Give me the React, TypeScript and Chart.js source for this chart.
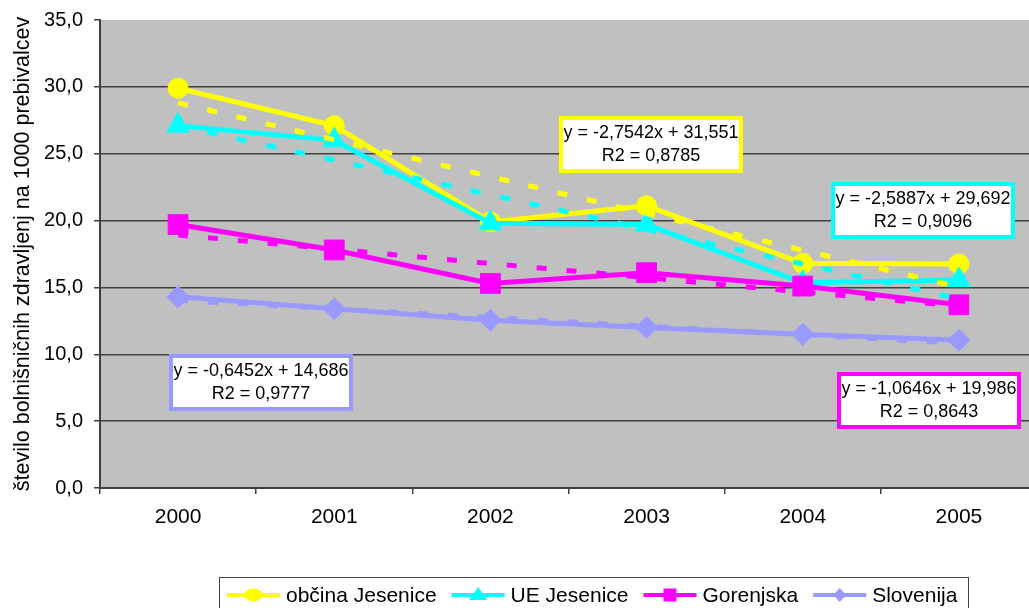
import React, { useEffect, useRef } from 'react';
import { Chart, registerables } from 'chart.js';

Chart.register(...registerables);

// ---------- DATA ----------
const years = ['2000', '2001', '2002', '2003', '2004', '2005'];
const seriesLabels = ['občina Jesenice', 'UE Jesenice', 'Gorenjska', 'Slovenija'];
const obcinaJesenice = [29.9, 27.1, 19.9, 21.1, 16.8, 16.75];
const ueJesenice = [27.1, 26.0, 19.8, 19.7, 15.35, 15.55];
const gorenjska = [19.7, 17.8, 15.3, 16.1, 15.1, 13.7];
const slovenija = [14.3, 13.4, 12.55, 12.0, 11.5, 11.05];

// linear trendlines (values of the displayed equations at x = 1..6)
const trendObcina = [28.8, 26.04, 23.29, 20.53, 17.78, 15.03];
const trendUE = [27.1, 24.52, 21.93, 19.34, 16.75, 14.16];
const trendGorenjska = [18.92, 17.86, 16.79, 15.73, 14.66, 13.6];
const trendSlovenija = [14.04, 13.4, 12.75, 12.11, 11.46, 10.82];

const trendEquations = [
  'y = -2,7542x + 31,551',
  'y = -2,5887x + 29,692',
  'y = -1,0646x + 19,986',
  'y = -0,6452x + 14,686',
];
const trendR2 = ['R2 = 0,8785', 'R2 = 0,9096', 'R2 = 0,8643', 'R2 = 0,9777'];

const yTitle = 'število bolnišničnih zdravljenj na 1000 prebivalcev';

// ---------- STYLE / LAYOUT ----------
const FONT = '"Liberation Sans", Arial, sans-serif';
const colors = ['#FFFF00', '#00FFFF', '#FF00FF', '#9999FF'];
const shapes = ['circle', 'triangle', 'rect', 'rectRot'];
const radii = [10, 13, 14, 11];
// annotation box anchors (category index, value) for each trendline label
const annAnchors = [
  { x: 3.03, y: 25.69 },
  { x: 4.77, y: 20.75 },
  { x: 4.81, y: 6.54 },
  { x: 0.53, y: 7.89 },
];

const CANVAS_W = 1052;
const CANVAS_H = 608;

const bgPlugin = {
  id: 'plotBg',
  beforeDraw(chart: any) {
    const { ctx, chartArea } = chart;
    ctx.save();
    ctx.fillStyle = '#C0C0C0';
    ctx.fillRect(chartArea.left, chartArea.top, chartArea.right - chartArea.left, chartArea.bottom - chartArea.top);
    ctx.restore();
  },
};

function drawLegendMarker(ctx: CanvasRenderingContext2D, shape: string, x: number, y: number, color: string) {
  ctx.fillStyle = color;
  ctx.beginPath();
  if (shape === 'circle') {
    ctx.ellipse(x, y, 9.5, 6.5, 0, 0, Math.PI * 2);
  } else if (shape === 'triangle') {
    ctx.moveTo(x, y - 8);
    ctx.lineTo(x + 9, y + 5);
    ctx.lineTo(x - 9, y + 5);
    ctx.closePath();
  } else if (shape === 'rect') {
    ctx.rect(x - 6.5, y - 6.5, 13, 13);
  } else {
    ctx.moveTo(x, y - 7);
    ctx.lineTo(x + 6.5, y);
    ctx.lineTo(x, y + 7);
    ctx.lineTo(x - 6.5, y);
    ctx.closePath();
  }
  ctx.fill();
}

const overlayPlugin = {
  id: 'overlay',
  afterDraw(chart: any) {
    const { ctx } = chart;
    const xs = chart.scales.x;
    const ys = chart.scales.y;
    ctx.save();
    // trendline equation boxes
    const bw = 184;
    const bh = 57;
    for (let i = 0; i < trendEquations.length; i++) {
      const cx = xs.getPixelForValue(annAnchors[i].x);
      const cy = ys.getPixelForValue(annAnchors[i].y);
      const left = Math.round(cx - bw / 2);
      const top = Math.round(cy - bh / 2);
      ctx.fillStyle = '#FFFFFF';
      ctx.fillRect(left, top, bw, bh);
      ctx.lineWidth = 4;
      ctx.strokeStyle = colors[i];
      ctx.strokeRect(left + 2, top + 2, bw - 4, bh - 4);
      ctx.fillStyle = '#000000';
      ctx.font = `18px ${FONT}`;
      ctx.textAlign = 'center';
      ctx.textBaseline = 'middle';
      ctx.fillText(trendEquations[i], left + bw / 2, top + bh / 2 - 11.5);
      ctx.fillText(trendR2[i], left + bw / 2, top + bh / 2 + 11.5);
    }

    // legend
    ctx.font = `21px ${FONT}`;
    ctx.textAlign = 'left';
    ctx.textBaseline = 'middle';
    const legY = 595;
    let x = 227;
    let lastEnd = x;
    for (let i = 0; i < seriesLabels.length; i++) {
      ctx.strokeStyle = colors[i];
      ctx.lineWidth = 4;
      ctx.beginPath();
      ctx.moveTo(x, legY);
      ctx.lineTo(x + 53, legY);
      ctx.stroke();
      drawLegendMarker(ctx, shapes[i], x + 26.5, legY, colors[i]);
      ctx.fillStyle = '#000000';
      ctx.fillText(seriesLabels[i], x + 59, legY + 1);
      const w = ctx.measureText(seriesLabels[i]).width;
      lastEnd = x + 59 + w;
      x = lastEnd + 15;
    }
    ctx.strokeStyle = '#404040';
    ctx.lineWidth = 1;
    ctx.strokeRect(219.5, 577.5, Math.round(lastEnd + 11 - 219.5), 60);
    ctx.restore();
  },
};

export default function App() {
  const canvasRef = useRef<HTMLCanvasElement | null>(null);

  useEffect(() => {
    document.body.style.margin = '0';
    const canvas = canvasRef.current;
    if (!canvas) return;
    Chart.defaults.font.family = FONT;

    const seriesData = [obcinaJesenice, ueJesenice, gorenjska, slovenija];
    const trendData = [trendObcina, trendUE, trendGorenjska, trendSlovenija];

    const datasets: any[] = [];
    for (let i = 0; i < seriesData.length; i++) {
      datasets.push({
        label: seriesLabels[i],
        data: seriesData[i],
        borderColor: colors[i],
        backgroundColor: colors[i],
        borderWidth: 5,
        pointStyle: shapes[i],
        pointRadius: radii[i],
        pointBorderWidth: 1,
        pointBorderColor: colors[i],
        pointBackgroundColor: colors[i],
        tension: 0,
        order: 4 - i,
      });
    }
    for (let i = 0; i < trendData.length; i++) {
      datasets.push({
        label: 'trend ' + seriesLabels[i],
        data: trendData[i],
        borderColor: colors[i],
        borderWidth: 5,
        borderDash: [10, 20],
        pointRadius: 0,
        tension: 0,
        order: 0,
      });
    }

    const chart = new Chart(canvas, {
      type: 'line',
      data: { labels: years, datasets },
      options: {
        responsive: false,
        maintainAspectRatio: false,
        devicePixelRatio: 1,
        animation: false,
        layout: { padding: { top: 20, left: 0, right: 0, bottom: 0 } },
        plugins: {
          legend: { display: false },
          tooltip: { enabled: false },
        },
        scales: {
          x: {
            type: 'category',
            offset: true,
            grid: {
              display: true,
              offset: true,
              drawOnChartArea: false,
              drawTicks: true,
              tickLength: 6,
              color: '#404040',
              lineWidth: 1.5,
            },
            border: { display: true, color: '#404040', width: 2 },
            ticks: {
              color: '#000000',
              font: { family: FONT, size: 21 },
              padding: 11,
              maxRotation: 0,
              autoSkip: false,
            },
            afterFit: (s: any) => {
              s.height = 120;
              s.paddingLeft = 0;
              s.paddingRight = 0;
            },
          },
          y: {
            min: 0,
            max: 35,
            ticks: {
              stepSize: 5,
              color: '#000000',
              font: { family: FONT, size: 20 },
              padding: 11,
              callback: (v: any) => Number(v).toFixed(1).replace('.', ','),
            },
            grid: {
              color: (c: any) => (c.tick && c.tick.value === 35 ? 'rgba(0,0,0,0)' : '#404040'),
              tickColor: '#404040',
              tickLength: 6,
              lineWidth: 1.5,
            },
            border: { display: true, color: '#404040', width: 2 },
            title: {
              display: true,
              text: yTitle,
              color: '#000000',
              font: { family: FONT, size: 21.5 },
              padding: { top: 10, bottom: 0 },
            },
            afterFit: (s: any) => {
              s.width = 100;
              s.paddingTop = 0;
              s.paddingBottom = 0;
            },
          },
        },
      },
      plugins: [bgPlugin, overlayPlugin],
    });

    return () => {
      chart.destroy();
    };
  }, []);

  return (
    <div style={{ position: 'absolute', left: 0, top: 0, width: 1029, height: 608, overflow: 'hidden', background: '#ffffff' }}>
      <canvas ref={canvasRef} width={CANVAS_W} height={CANVAS_H} style={{ display: 'block', width: CANVAS_W, height: CANVAS_H }} />
    </div>
  );
}
